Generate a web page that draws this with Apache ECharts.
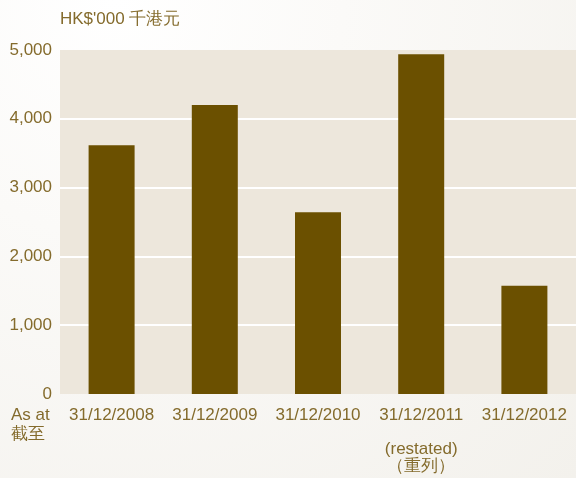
<!DOCTYPE html>
<html><head><meta charset="utf-8">
<script src="https://cdn.jsdelivr.net/npm/echarts@6/dist/echarts.min.js"></script>
<style>
html,body{margin:0;padding:0;width:576px;height:478px;overflow:hidden;}
body{background:radial-gradient(ellipse at 20% 0%, #ffffff 0%, #fbfaf8 35%, #f3f1ec 100%);}
#c{width:576px;height:478px;}
</style></head><body>
<div id="c"></div>
<script>
const categories = ['31/12/2008','31/12/2009','31/12/2010','31/12/2011\n\n(restated)\n（重列）','31/12/2012'];
const values = [3615, 4200, 2640, 4940, 1575];
const yTicks = [0, 1000, 2000, 3000, 4000, 5000];
const unitLabel = "HK$'000 千港元";
const asAtLabel = "As at\n截至";

const txt = '#846b2c';
const font = '"Liberation Sans", Arial, sans-serif';
const chart = echarts.init(document.getElementById('c'));
chart.setOption({
  animation:false,
  backgroundColor:'transparent',
  grid:{left:60,right:0,top:50,bottom:84,show:true,backgroundColor:'#ede7dc',borderWidth:0},
  graphic:[
    {type:'text',left:60,top:11,style:{text:unitLabel,fill:txt,font:'17px '+font}},
    {type:'text',left:11,top:406,style:{text:asAtLabel,fill:txt,font:'17px '+font,lineHeight:19}}
  ],
  xAxis:{type:'category',data:categories,
    axisLine:{show:false},axisTick:{show:false},
    axisLabel:{color:txt,fontSize:17,fontFamily:font,margin:13,lineHeight:17,verticalAlign:'top',interval:0}},
  yAxis:{type:'value',min:yTicks[0],max:yTicks[yTicks.length-1],interval:1000,
    axisLine:{show:false},axisTick:{show:false},
    axisLabel:{color:txt,fontSize:17,fontFamily:font,margin:8,formatter:v=>v.toLocaleString('en-US')},
    splitLine:{show:true,lineStyle:{color:['rgba(0,0,0,0)','#ffffff','#ffffff','#ffffff','#ffffff','rgba(0,0,0,0)'],width:2}}},
  series:[{type:'bar',data:values,barWidth:46,itemStyle:{color:'#6b5000'}}]
});
</script></body></html>
